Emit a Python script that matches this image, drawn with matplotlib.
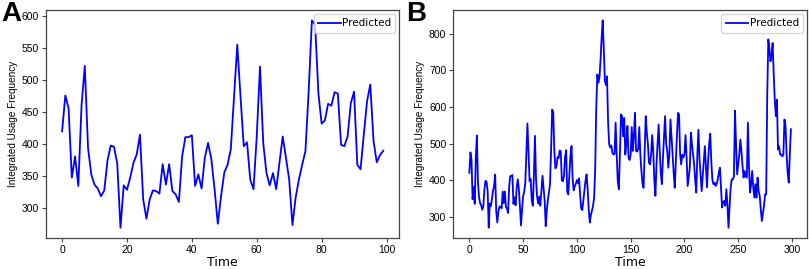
import numpy as np
import matplotlib.pyplot as plt

# panel A: first 100 steps (panel B starts with the same values)
pred_a = [420, 476, 456, 348, 381, 335, 461, 522, 394, 353,
          337, 331, 319, 328, 375, 398, 396, 370, 270, 336,
          329, 348, 371, 384, 415, 314, 284, 314, 328, 327,
          323, 369, 337, 369, 327, 322, 310, 381, 411, 411,
          414, 335, 353, 331, 379, 402, 377, 330, 276, 319,
          356, 368, 392, 474, 555, 474, 397, 403, 345, 330,
          412, 521, 402, 355, 336, 355, 330, 371, 412, 379,
          345, 274, 317, 345, 368, 389, 482, 593, 586, 480,
          432, 437, 463, 460, 481, 479, 399, 397, 412, 464,
          482, 368, 361, 415, 467, 493, 405, 372, 383, 390]

# panel B: steps 100-299
pred_b_rest = [400, 392, 405, 360, 322, 318, 345, 372, 398, 416,
               375, 320, 284, 305, 316, 330, 352, 430, 600, 689,
               666, 682, 730, 790, 837, 760, 672, 660, 684, 560,
               498, 489, 495, 475, 470, 472, 557, 470, 397, 375,
               470, 580, 575, 520, 570, 470, 500, 548, 462, 455,
               470, 545, 480, 520, 584, 480, 478, 485, 545, 470,
               425, 390, 379, 480, 575, 530, 500, 448, 443, 470,
               523, 480, 400, 357, 440, 500, 552, 480, 420, 389,
               460, 520, 575, 500, 480, 434, 470, 566, 520, 470,
               420, 379, 450, 520, 584, 580, 470, 443, 470, 462,
               470, 523, 462, 384, 410, 434, 530, 498, 470, 443,
               400, 366, 470, 538, 460, 416, 370, 410, 448, 493,
               434, 380, 452, 500, 527, 450, 400, 389, 393, 384,
               390, 402, 420, 434, 380, 325, 340, 343, 330, 375,
               330, 270, 330, 380, 402, 402, 410, 590, 498, 416,
               443, 470, 511, 480, 440, 407, 425, 410, 407, 557,
               440, 366, 389, 425, 380, 352, 389, 352, 407, 370,
               357, 320, 288, 310, 330, 361, 361, 634, 785, 760,
               725, 740, 775, 690, 620, 575, 620, 484, 493, 470,
               470, 465, 470, 566, 548, 470, 420, 393, 470, 539]

pred_b = pred_a + pred_b_rest

plt.rcParams['font.family'] = ['Liberation Sans', 'DejaVu Sans']

fig = plt.figure(figsize=(8.09, 2.69), dpi=100)
ax_a = fig.add_axes([0.0569, 0.1152, 0.4367, 0.8476])
ax_b = fig.add_axes([0.5603, 0.1152, 0.4372, 0.8476])

panels = [(ax_a, pred_a, np.arange(0, 101, 20), np.arange(300, 601, 50)),
          (ax_b, pred_b, np.arange(0, 301, 50), np.arange(300, 801, 100))]

for ax, vals, xt, yt in panels:
    ax.plot(np.arange(len(vals)), vals, color='#0000ff', lw=1.3, label='Predicted')
    ax.set_xticks(xt)
    ax.set_yticks(yt)
    ax.tick_params(labelsize=7.5, length=3, width=0.8, color='#444444', pad=2)
    for s in ax.spines.values():
        s.set_color('#444444')
        s.set_linewidth(0.9)
    ax.set_xlabel('Time', fontsize=9, family='DejaVu Sans', labelpad=1)
    ax.set_ylabel('Integrated Usage Frequency', fontsize=7.2, labelpad=3)
    ax.legend(loc='upper right', handlelength=2.2, handletextpad=0.1,
              borderpad=0.4, borderaxespad=0.4,
              prop={'family': 'DejaVu Sans', 'size': 7.5})

# panel letters
fig.text(0.002, 0.998, 'A', fontsize=20, fontweight='bold', va='top', ha='left')
fig.text(0.502, 0.998, 'B', fontsize=20, fontweight='bold', va='top', ha='left')

fig.savefig('out.png', dpi=100)
